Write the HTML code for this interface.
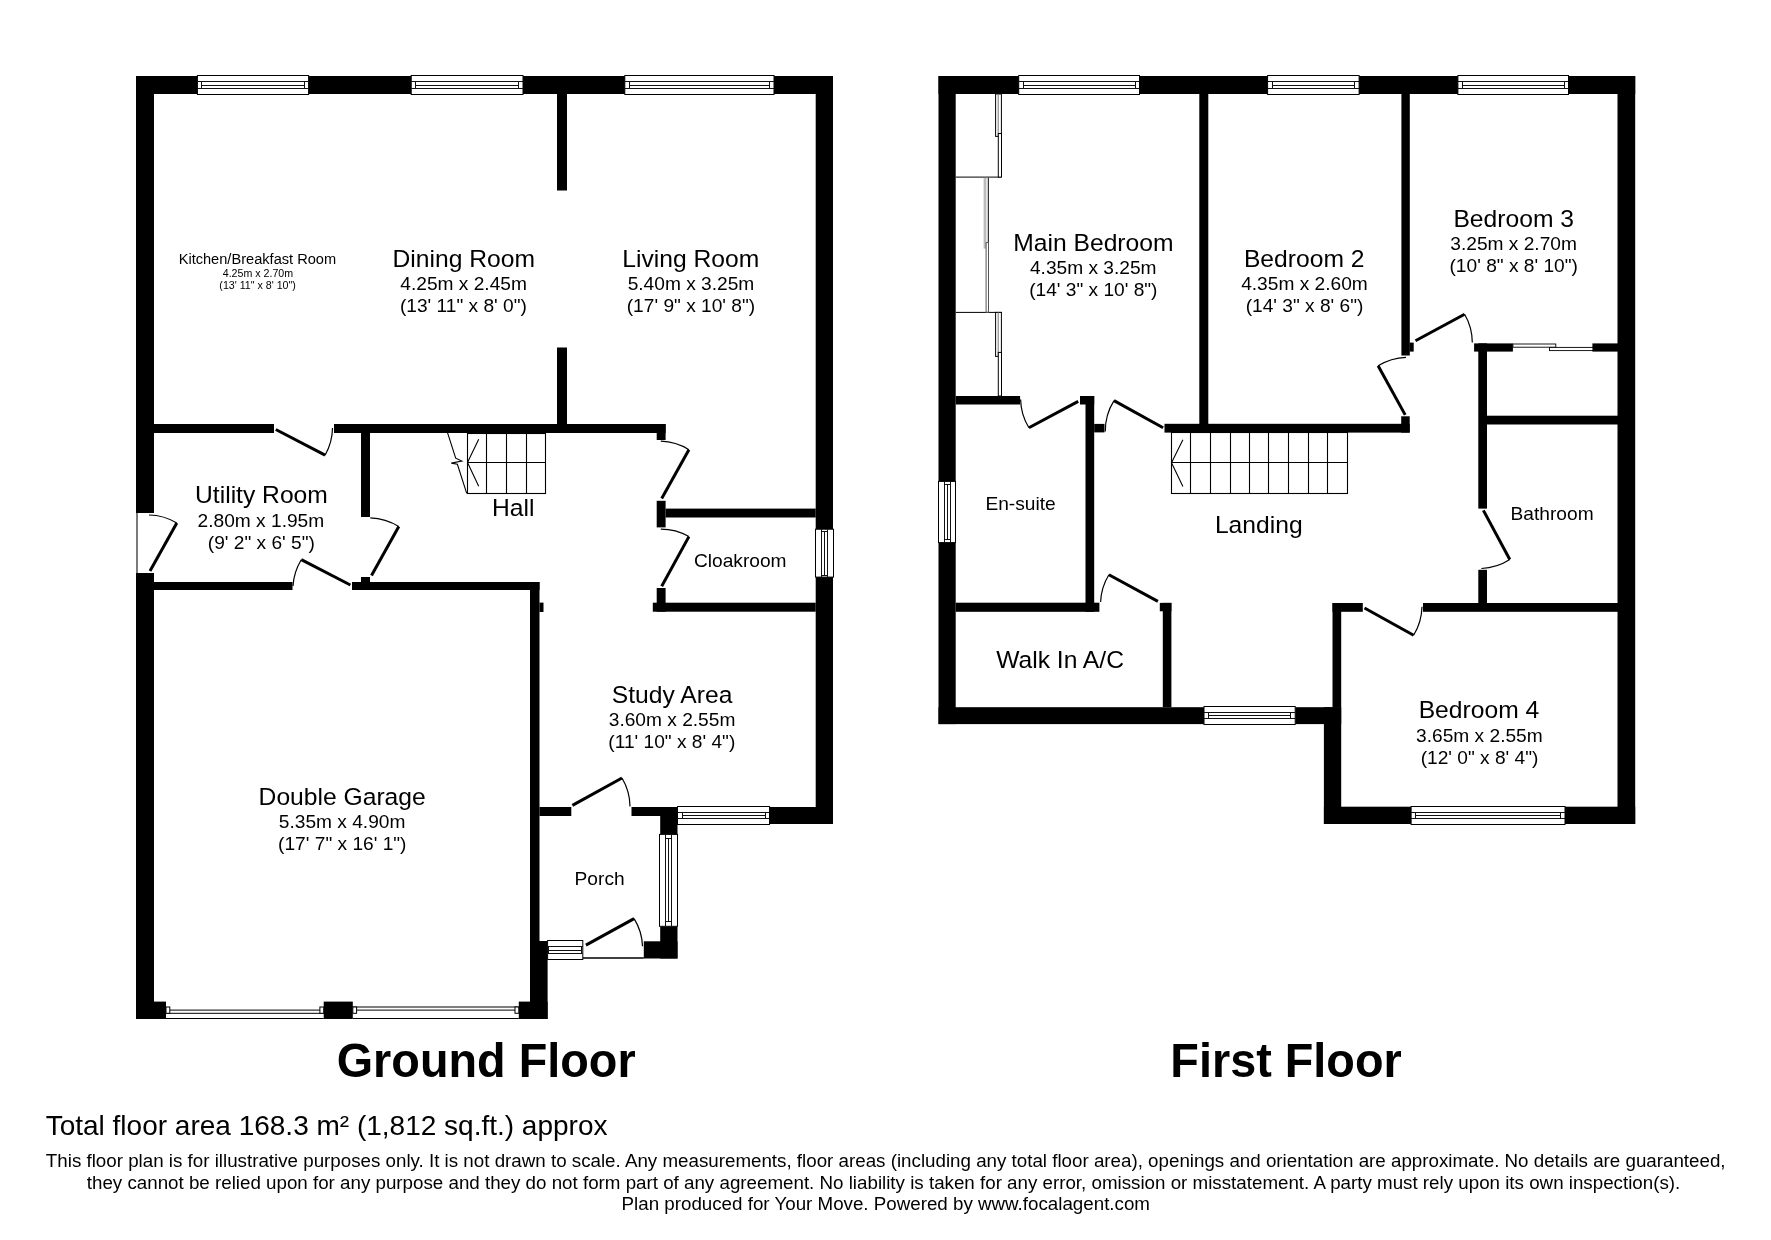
<!DOCTYPE html>
<html><head><meta charset="utf-8"><style>
html,body{margin:0;padding:0;background:#fff;}
svg{display:block;will-change:transform;}
text{font-family:"Liberation Sans",sans-serif;}
</style></head><body>
<svg width="1771" height="1240" viewBox="0 0 1771 1240" font-family="Liberation Sans, sans-serif">
<rect width="1771" height="1240" fill="#fff"/>
<rect x="136.0" y="76.0" width="697.0" height="18.0" fill="#000"/>
<rect x="136.0" y="76.0" width="18.0" height="437.0" fill="#000"/>
<rect x="136.0" y="573.0" width="18.0" height="446.0" fill="#000"/>
<line x1="137.0" y1="513.0" x2="137.0" y2="573.0" stroke="#222" stroke-width="1.2"/>
<rect x="815.7" y="76.0" width="17.3" height="748.0" fill="#000"/>
<rect x="557.0" y="94.0" width="10.0" height="96.5" fill="#000"/>
<rect x="557.0" y="347.5" width="10.0" height="76.5" fill="#000"/>
<rect x="154.0" y="424.0" width="120.0" height="9.0" fill="#000"/>
<rect x="334.0" y="424.0" width="331.6" height="9.0" fill="#000"/>
<rect x="656.7" y="424.0" width="8.9" height="16.0" fill="#000"/>
<rect x="361.0" y="424.0" width="9.0" height="93.0" fill="#000"/>
<rect x="361.0" y="577.0" width="9.0" height="5.0" fill="#000"/>
<rect x="154.0" y="582.0" width="138.5" height="8.0" fill="#000"/>
<rect x="352.0" y="582.0" width="187.5" height="8.0" fill="#000"/>
<rect x="530.0" y="582.0" width="9.5" height="359.0" fill="#000"/>
<rect x="530.0" y="941.0" width="17.6" height="78.0" fill="#000"/>
<rect x="539.5" y="602.6" width="4.0" height="9.4" fill="#000"/>
<rect x="656.7" y="500.8" width="8.9" height="26.6" fill="#000"/>
<rect x="665.6" y="508.6" width="150.1" height="8.9" fill="#000"/>
<rect x="656.7" y="588.0" width="8.9" height="23.7" fill="#000"/>
<rect x="652.8" y="602.7" width="162.9" height="9.0" fill="#000"/>
<rect x="539.5" y="807.0" width="31.8" height="9.0" fill="#000"/>
<rect x="631.5" y="807.0" width="46.0" height="9.0" fill="#000"/>
<rect x="660.2" y="807.0" width="17.3" height="27.4" fill="#000"/>
<rect x="769.5" y="807.0" width="63.5" height="17.0" fill="#000"/>
<rect x="660.2" y="926.3" width="17.3" height="32.2" fill="#000"/>
<rect x="643.8" y="941.3" width="33.7" height="17.2" fill="#000"/>
<line x1="582.8" y1="958.0" x2="643.8" y2="958.0" stroke="#000" stroke-width="1.6"/>
<rect x="136.0" y="1001.6" width="30.0" height="17.4" fill="#000"/>
<rect x="323.7" y="1001.6" width="29.1" height="17.4" fill="#000"/>
<rect x="518.8" y="1001.6" width="28.8" height="17.4" fill="#000"/>
<rect x="197.4" y="75.5" width="111.2" height="19.0" fill="#fff" stroke="#000" stroke-width="1"/>
<line x1="197.4" y1="81.5" x2="308.6" y2="81.5" stroke="#111" stroke-width="1"/>
<line x1="197.4" y1="88.5" x2="308.6" y2="88.5" stroke="#111" stroke-width="1"/>
<line x1="201.5" y1="81.5" x2="201.5" y2="88.5" stroke="#111" stroke-width="1"/>
<line x1="304.5" y1="81.5" x2="304.5" y2="88.5" stroke="#111" stroke-width="1"/>
<line x1="201.5" y1="85.5" x2="304.5" y2="85.5" stroke="#111" stroke-width="1"/>
<rect x="411.2" y="75.5" width="111.8" height="19.0" fill="#fff" stroke="#000" stroke-width="1"/>
<line x1="411.2" y1="81.5" x2="523.0" y2="81.5" stroke="#111" stroke-width="1"/>
<line x1="411.2" y1="88.5" x2="523.0" y2="88.5" stroke="#111" stroke-width="1"/>
<line x1="415.5" y1="81.5" x2="415.5" y2="88.5" stroke="#111" stroke-width="1"/>
<line x1="518.5" y1="81.5" x2="518.5" y2="88.5" stroke="#111" stroke-width="1"/>
<line x1="415.5" y1="85.5" x2="518.5" y2="85.5" stroke="#111" stroke-width="1"/>
<rect x="624.8" y="75.5" width="149.2" height="19.0" fill="#fff" stroke="#000" stroke-width="1"/>
<line x1="624.8" y1="81.5" x2="774.0" y2="81.5" stroke="#111" stroke-width="1"/>
<line x1="624.8" y1="88.5" x2="774.0" y2="88.5" stroke="#111" stroke-width="1"/>
<line x1="629.5" y1="81.5" x2="629.5" y2="88.5" stroke="#111" stroke-width="1"/>
<line x1="769.5" y1="81.5" x2="769.5" y2="88.5" stroke="#111" stroke-width="1"/>
<line x1="629.5" y1="85.5" x2="769.5" y2="85.5" stroke="#111" stroke-width="1"/>
<rect x="815.5" y="529.2" width="18.0" height="47.9" fill="#fff" stroke="#000" stroke-width="1"/>
<line x1="821.5" y1="529.2" x2="821.5" y2="577.1" stroke="#111" stroke-width="1"/>
<line x1="827.5" y1="529.2" x2="827.5" y2="577.1" stroke="#111" stroke-width="1"/>
<line x1="821.5" y1="531.5" x2="827.5" y2="531.5" stroke="#111" stroke-width="1"/>
<line x1="821.5" y1="575.5" x2="827.5" y2="575.5" stroke="#111" stroke-width="1"/>
<line x1="824.5" y1="531.5" x2="824.5" y2="575.5" stroke="#111" stroke-width="1"/>
<rect x="677.5" y="806.5" width="92.0" height="18.0" fill="#fff" stroke="#000" stroke-width="1"/>
<line x1="677.5" y1="812.5" x2="769.5" y2="812.5" stroke="#111" stroke-width="1"/>
<line x1="677.5" y1="818.5" x2="769.5" y2="818.5" stroke="#111" stroke-width="1"/>
<line x1="682.5" y1="812.5" x2="682.5" y2="818.5" stroke="#111" stroke-width="1"/>
<line x1="765.5" y1="812.5" x2="765.5" y2="818.5" stroke="#111" stroke-width="1"/>
<line x1="682.5" y1="815.5" x2="765.5" y2="815.5" stroke="#111" stroke-width="1"/>
<rect x="659.5" y="834.4" width="18.0" height="91.9" fill="#fff" stroke="#000" stroke-width="1"/>
<line x1="665.5" y1="834.4" x2="665.5" y2="926.3" stroke="#111" stroke-width="1"/>
<line x1="671.5" y1="834.4" x2="671.5" y2="926.3" stroke="#111" stroke-width="1"/>
<line x1="665.5" y1="838.5" x2="671.5" y2="838.5" stroke="#111" stroke-width="1"/>
<line x1="665.5" y1="921.5" x2="671.5" y2="921.5" stroke="#111" stroke-width="1"/>
<line x1="668.5" y1="838.5" x2="668.5" y2="921.5" stroke="#111" stroke-width="1"/>
<rect x="547.6" y="940.5" width="35.2" height="19.0" fill="#fff" stroke="#000" stroke-width="1"/>
<line x1="547.6" y1="946.5" x2="582.8" y2="946.5" stroke="#111" stroke-width="1"/>
<line x1="547.6" y1="953.5" x2="582.8" y2="953.5" stroke="#111" stroke-width="1"/>
<line x1="548.5" y1="946.5" x2="548.5" y2="953.5" stroke="#111" stroke-width="1"/>
<line x1="581.5" y1="946.5" x2="581.5" y2="953.5" stroke="#111" stroke-width="1"/>
<line x1="548.5" y1="950.5" x2="581.5" y2="950.5" stroke="#111" stroke-width="1"/>
<line x1="166.0" y1="1018.5" x2="323.7" y2="1018.5" stroke="#000" stroke-width="1.2"/>
<rect x="166.0" y="1010.1" width="157.7" height="3.2" fill="#fff" stroke="#000" stroke-width="1"/>
<rect x="166.0" y="1007" width="3.8" height="6.3" fill="#fff" stroke="#000" stroke-width="1"/>
<rect x="319.9" y="1007" width="3.8" height="6.3" fill="#fff" stroke="#000" stroke-width="1"/>
<line x1="352.8" y1="1018.5" x2="518.8" y2="1018.5" stroke="#000" stroke-width="1.2"/>
<rect x="352.8" y="1007.0" width="166.0" height="3.1" fill="#fff" stroke="#000" stroke-width="1"/>
<rect x="352.8" y="1007" width="3.8" height="6.3" fill="#fff" stroke="#000" stroke-width="1"/>
<rect x="515.0" y="1007" width="3.8" height="6.3" fill="#fff" stroke="#000" stroke-width="1"/>
<line x1="275.8" y1="429.5" x2="325.1" y2="455.2" stroke="#000" stroke-width="3"/>
<path d="M325.1,455.2 A56.2,56.2 0 0 0 332.5,428.1" fill="none" stroke="#000" stroke-width="1.2"/>
<line x1="150.0" y1="571.0" x2="176.8" y2="523.0" stroke="#000" stroke-width="3"/>
<path d="M176.8,523.0 A55.5,55.5 0 0 0 149.0,515.0" fill="none" stroke="#000" stroke-width="1.2"/>
<line x1="350.4" y1="585.0" x2="301.3" y2="559.7" stroke="#000" stroke-width="3"/>
<path d="M301.3,559.7 A56.3,56.3 0 0 0 293.0,586.0" fill="none" stroke="#000" stroke-width="1.2"/>
<line x1="371.5" y1="575.6" x2="398.8" y2="526.5" stroke="#000" stroke-width="3"/>
<path d="M398.8,526.5 A57.0,57.0 0 0 0 370.3,517.8" fill="none" stroke="#000" stroke-width="1.2"/>
<line x1="661.7" y1="498.5" x2="688.9" y2="449.7" stroke="#000" stroke-width="3"/>
<path d="M688.9,449.7 A56.6,56.6 0 0 0 660.8,441.2" fill="none" stroke="#000" stroke-width="1.2"/>
<line x1="661.7" y1="586.3" x2="688.9" y2="536.6" stroke="#000" stroke-width="3"/>
<path d="M688.9,536.6 A56.9,56.9 0 0 0 660.8,529.2" fill="none" stroke="#000" stroke-width="1.2"/>
<line x1="572.4" y1="805.4" x2="622.0" y2="778.0" stroke="#000" stroke-width="3"/>
<path d="M622.0,778.0 A57.1,57.1 0 0 1 630.0,806.4" fill="none" stroke="#000" stroke-width="1.2"/>
<line x1="585.9" y1="945.1" x2="634.1" y2="918.6" stroke="#000" stroke-width="3"/>
<path d="M634.1,918.6 A55.8,55.8 0 0 1 642.5,946.2" fill="none" stroke="#000" stroke-width="1.2"/>
<g stroke="#000" stroke-width="1.1" fill="none">
<rect x="467.5" y="433.5" width="78" height="60"/>
<line x1="486.5" y1="433" x2="486.5" y2="493.5"/>
<line x1="506.5" y1="433" x2="506.5" y2="493.5"/>
<line x1="526.5" y1="433" x2="526.5" y2="493.5"/>
<line x1="467.5" y1="462.5" x2="545.5" y2="462.5"/>
<polyline points="447.5,432.6 455.7,458.2 461.8,461.0 451.3,463.1 457.4,464.3 466.7,493.3"/>
<polyline points="478.7,439.2 467.5,462.6 478.7,486.3"/>
</g>
<rect x="938.5" y="76.0" width="696.7" height="18.0" fill="#000"/>
<rect x="938.5" y="76.0" width="17.2" height="648.1" fill="#000"/>
<rect x="1617.5" y="76.0" width="17.7" height="748.0" fill="#000"/>
<rect x="1199.3" y="94.0" width="9.0" height="330.0" fill="#000"/>
<rect x="1401.4" y="94.0" width="8.4" height="261.5" fill="#000"/>
<rect x="1409.6" y="342.6" width="4.1" height="9.0" fill="#000"/>
<rect x="1164.5" y="423.8" width="245.2" height="8.8" fill="#000"/>
<rect x="1401.2" y="416.3" width="8.5" height="16.3" fill="#000"/>
<rect x="955.7" y="396.0" width="64.4" height="8.5" fill="#000"/>
<rect x="1080.0" y="396.0" width="14.2" height="8.5" fill="#000"/>
<rect x="1085.5" y="396.0" width="8.7" height="215.8" fill="#000"/>
<rect x="1094.2" y="423.9" width="10.3" height="8.5" fill="#000"/>
<rect x="955.7" y="602.7" width="143.7" height="9.1" fill="#000"/>
<rect x="1162.8" y="602.9" width="8.6" height="104.3" fill="#000"/>
<rect x="1159.8" y="602.9" width="11.6" height="8.4" fill="#000"/>
<rect x="938.5" y="707.2" width="265.5" height="16.9" fill="#000"/>
<rect x="1295.2" y="707.2" width="46.0" height="16.9" fill="#000"/>
<rect x="1332.5" y="603.0" width="8.7" height="104.2" fill="#000"/>
<rect x="1323.9" y="707.2" width="17.3" height="116.8" fill="#000"/>
<rect x="1323.9" y="806.7" width="311.3" height="17.3" fill="#000"/>
<rect x="1332.5" y="603.0" width="30.3" height="8.8" fill="#000"/>
<rect x="1423.0" y="603.0" width="195.0" height="8.8" fill="#000"/>
<rect x="1474.1" y="343.4" width="38.8" height="8.2" fill="#000"/>
<rect x="1592.4" y="343.4" width="25.6" height="8.2" fill="#000"/>
<rect x="1478.3" y="343.4" width="8.7" height="165.2" fill="#000"/>
<rect x="1487.0" y="415.7" width="131.0" height="8.8" fill="#000"/>
<rect x="1478.3" y="569.8" width="8.7" height="33.6" fill="#000"/>
<rect x="1018.7" y="75.5" width="120.8" height="19.0" fill="#fff" stroke="#000" stroke-width="1"/>
<line x1="1018.7" y1="81.5" x2="1139.5" y2="81.5" stroke="#111" stroke-width="1"/>
<line x1="1018.7" y1="88.5" x2="1139.5" y2="88.5" stroke="#111" stroke-width="1"/>
<line x1="1023.5" y1="81.5" x2="1023.5" y2="88.5" stroke="#111" stroke-width="1"/>
<line x1="1135.5" y1="81.5" x2="1135.5" y2="88.5" stroke="#111" stroke-width="1"/>
<line x1="1023.5" y1="85.5" x2="1135.5" y2="85.5" stroke="#111" stroke-width="1"/>
<rect x="1267.6" y="75.5" width="91.5" height="19.0" fill="#fff" stroke="#000" stroke-width="1"/>
<line x1="1267.6" y1="81.5" x2="1359.1" y2="81.5" stroke="#111" stroke-width="1"/>
<line x1="1267.6" y1="88.5" x2="1359.1" y2="88.5" stroke="#111" stroke-width="1"/>
<line x1="1272.5" y1="81.5" x2="1272.5" y2="88.5" stroke="#111" stroke-width="1"/>
<line x1="1354.5" y1="81.5" x2="1354.5" y2="88.5" stroke="#111" stroke-width="1"/>
<line x1="1272.5" y1="85.5" x2="1354.5" y2="85.5" stroke="#111" stroke-width="1"/>
<rect x="1457.9" y="75.5" width="110.6" height="19.0" fill="#fff" stroke="#000" stroke-width="1"/>
<line x1="1457.9" y1="81.5" x2="1568.5" y2="81.5" stroke="#111" stroke-width="1"/>
<line x1="1457.9" y1="88.5" x2="1568.5" y2="88.5" stroke="#111" stroke-width="1"/>
<line x1="1462.5" y1="81.5" x2="1462.5" y2="88.5" stroke="#111" stroke-width="1"/>
<line x1="1564.5" y1="81.5" x2="1564.5" y2="88.5" stroke="#111" stroke-width="1"/>
<line x1="1462.5" y1="85.5" x2="1564.5" y2="85.5" stroke="#111" stroke-width="1"/>
<rect x="938.5" y="481.4" width="17.0" height="61.2" fill="#fff" stroke="#000" stroke-width="1"/>
<line x1="944.5" y1="481.4" x2="944.5" y2="542.6" stroke="#111" stroke-width="1"/>
<line x1="950.5" y1="481.4" x2="950.5" y2="542.6" stroke="#111" stroke-width="1"/>
<line x1="944.5" y1="484.5" x2="950.5" y2="484.5" stroke="#111" stroke-width="1"/>
<line x1="944.5" y1="539.5" x2="950.5" y2="539.5" stroke="#111" stroke-width="1"/>
<line x1="947.5" y1="484.5" x2="947.5" y2="539.5" stroke="#111" stroke-width="1"/>
<rect x="1204.0" y="706.5" width="91.2" height="18.0" fill="#fff" stroke="#000" stroke-width="1"/>
<line x1="1204.0" y1="712.5" x2="1295.2" y2="712.5" stroke="#111" stroke-width="1"/>
<line x1="1204.0" y1="718.5" x2="1295.2" y2="718.5" stroke="#111" stroke-width="1"/>
<line x1="1208.5" y1="712.5" x2="1208.5" y2="718.5" stroke="#111" stroke-width="1"/>
<line x1="1290.5" y1="712.5" x2="1290.5" y2="718.5" stroke="#111" stroke-width="1"/>
<line x1="1208.5" y1="715.5" x2="1290.5" y2="715.5" stroke="#111" stroke-width="1"/>
<rect x="1411.1" y="806.5" width="153.9" height="18.0" fill="#fff" stroke="#000" stroke-width="1"/>
<line x1="1411.1" y1="812.5" x2="1565.0" y2="812.5" stroke="#111" stroke-width="1"/>
<line x1="1411.1" y1="818.5" x2="1565.0" y2="818.5" stroke="#111" stroke-width="1"/>
<line x1="1415.5" y1="812.5" x2="1415.5" y2="818.5" stroke="#111" stroke-width="1"/>
<line x1="1560.5" y1="812.5" x2="1560.5" y2="818.5" stroke="#111" stroke-width="1"/>
<line x1="1415.5" y1="815.5" x2="1560.5" y2="815.5" stroke="#111" stroke-width="1"/>
<line x1="1078.2" y1="401.4" x2="1028.9" y2="427.7" stroke="#000" stroke-width="3"/>
<path d="M1028.9,427.7 A56.8,56.8 0 0 1 1020.6,399.4" fill="none" stroke="#000" stroke-width="1.2"/>
<line x1="1163.1" y1="427.7" x2="1114.0" y2="400.6" stroke="#000" stroke-width="3"/>
<path d="M1114.0,400.6 A57.0,57.0 0 0 0 1105.3,431.6" fill="none" stroke="#000" stroke-width="1.2"/>
<line x1="1157.9" y1="601.4" x2="1108.9" y2="574.8" stroke="#000" stroke-width="3"/>
<path d="M1108.9,574.8 A56.5,56.5 0 0 0 1100.6,602.0" fill="none" stroke="#000" stroke-width="1.2"/>
<line x1="1405.2" y1="414.9" x2="1378.1" y2="365.8" stroke="#000" stroke-width="3"/>
<path d="M1378.1,365.8 A56.8,56.8 0 0 1 1406.0,357.3" fill="none" stroke="#000" stroke-width="1.2"/>
<line x1="1415.5" y1="340.8" x2="1464.6" y2="314.2" stroke="#000" stroke-width="3"/>
<path d="M1464.6,314.2 A56.3,56.3 0 0 1 1472.3,342.6" fill="none" stroke="#000" stroke-width="1.2"/>
<line x1="1483.4" y1="510.4" x2="1509.8" y2="559.5" stroke="#000" stroke-width="3"/>
<path d="M1509.8,559.5 A56.9,56.9 0 0 1 1481.4,568.5" fill="none" stroke="#000" stroke-width="1.2"/>
<line x1="1364.5" y1="608.0" x2="1413.6" y2="635.2" stroke="#000" stroke-width="3"/>
<path d="M1413.6,635.2 A56.8,56.8 0 0 0 1422.0,606.7" fill="none" stroke="#000" stroke-width="1.2"/>
<g stroke="#000" stroke-width="1" fill="none">
<path d="M955.7,177.1 H1001.2"/>
<path d="M955.7,312.4 H1001.9"/>
<rect x="995.6" y="94" width="5.8" height="42.4" fill="#fff"/>
<line x1="998.2" y1="94" x2="998.2" y2="136.4" stroke="#777"/>
<rect x="998.3" y="133.5" width="3.2" height="43.6" fill="#fff"/>
<rect x="995.6" y="312.4" width="5.8" height="44.0" fill="#fff"/>
<line x1="998.2" y1="312.4" x2="998.2" y2="356.4" stroke="#777"/>
<rect x="998.3" y="352.4" width="3.2" height="43.6" fill="#fff"/>
<rect x="983.6" y="177.9" width="2.8" height="70.7" fill="#bbb" stroke="none"/>
<line x1="988.3" y1="177.9" x2="988.3" y2="242.6"/>
<rect x="986.1" y="242.6" width="2.4" height="69.6" fill="#fff" stroke="#555"/>
</g>
<g stroke="#000" stroke-width="0.9" fill="#fff">
<rect x="1512.9" y="344.0" width="42.9" height="3.2"/>
<rect x="1549.5" y="347.4" width="43.4" height="3.2"/>
</g>
<g stroke="#000" stroke-width="1.1" fill="none">
<rect x="1171.5" y="432.5" width="176" height="61"/>
<line x1="1190.5" y1="432.5" x2="1190.5" y2="493.5"/>
<line x1="1210.5" y1="432.5" x2="1210.5" y2="493.5"/>
<line x1="1230.5" y1="432.5" x2="1230.5" y2="493.5"/>
<line x1="1249.5" y1="432.5" x2="1249.5" y2="493.5"/>
<line x1="1268.5" y1="432.5" x2="1268.5" y2="493.5"/>
<line x1="1288.5" y1="432.5" x2="1288.5" y2="493.5"/>
<line x1="1308.5" y1="432.5" x2="1308.5" y2="493.5"/>
<line x1="1327.5" y1="432.5" x2="1327.5" y2="493.5"/>
<line x1="1171.5" y1="462.5" x2="1347" y2="462.5"/>
<polyline points="1182.9,439.7 1171.5,462.7 1182.9,486.5"/>
</g>
<g font-family="Liberation Sans, sans-serif" fill="#000">
<text x="178.65" y="264.00" font-size="14.62">Kitchen/Breakfast Room</text>
<text x="222.75" y="277.00" font-size="10.65">4.25m x 2.70m</text>
<text x="219.35" y="289.10" font-size="10.65">(13' 11&quot; x 8' 10&quot;)</text>
<text x="392.50" y="266.90" font-size="24.65">Dining Room</text>
<text x="400.30" y="290.20" font-size="19.15">4.25m x 2.45m</text>
<text x="399.90" y="312.20" font-size="19.15">(13' 11&quot; x 8' 0&quot;)</text>
<text x="622.35" y="266.90" font-size="24.65">Living Room</text>
<text x="627.65" y="290.20" font-size="19.15">5.40m x 3.25m</text>
<text x="626.75" y="312.20" font-size="19.15">(17' 9&quot; x 10' 8&quot;)</text>
<text x="195.05" y="503.40" font-size="24.65">Utility Room</text>
<text x="197.60" y="526.70" font-size="19.15">2.80m x 1.95m</text>
<text x="207.80" y="548.70" font-size="19.15">(9' 2&quot; x 6' 5&quot;)</text>
<text x="492.00" y="516.30" font-size="24.65">Hall</text>
<text x="694.00" y="567.10" font-size="19.15">Cloakroom</text>
<text x="611.80" y="702.90" font-size="24.65">Study Area</text>
<text x="608.75" y="726.20" font-size="19.15">3.60m x 2.55m</text>
<text x="608.35" y="748.20" font-size="19.15">(11' 10&quot; x 8' 4&quot;)</text>
<text x="574.60" y="885.30" font-size="19.15">Porch</text>
<text x="258.60" y="805.10" font-size="24.65">Double Garage</text>
<text x="278.80" y="828.40" font-size="19.15">5.35m x 4.90m</text>
<text x="278.10" y="850.40" font-size="19.15">(17' 7&quot; x 16' 1&quot;)</text>
<text x="1013.25" y="251.10" font-size="24.65">Main Bedroom</text>
<text x="1029.95" y="274.40" font-size="19.15">4.35m x 3.25m</text>
<text x="1029.15" y="296.40" font-size="19.15">(14' 3&quot; x 10' 8&quot;)</text>
<text x="1243.95" y="266.90" font-size="24.65">Bedroom 2</text>
<text x="1241.15" y="290.20" font-size="19.15">4.35m x 2.60m</text>
<text x="1245.65" y="312.20" font-size="19.15">(14' 3&quot; x 8' 6&quot;)</text>
<text x="1453.45" y="226.90" font-size="24.65">Bedroom 3</text>
<text x="1450.30" y="250.20" font-size="19.15">3.25m x 2.70m</text>
<text x="1449.50" y="272.20" font-size="19.15">(10' 8&quot; x 8' 10&quot;)</text>
<text x="1418.70" y="718.30" font-size="24.65">Bedroom 4</text>
<text x="1416.10" y="741.60" font-size="19.15">3.65m x 2.55m</text>
<text x="1420.70" y="763.60" font-size="19.15">(12' 0&quot; x 8' 4&quot;)</text>
<text x="985.45" y="510.10" font-size="19.15">En-suite</text>
<text x="1214.90" y="533.30" font-size="24.65">Landing</text>
<text x="1510.60" y="520.30" font-size="19.15">Bathroom</text>
<text x="996.15" y="667.80" font-size="24.65">Walk In A/C</text>
<text transform="translate(336.70,1077.30) scale(1,1.045)" x="0" y="0" font-size="46.8" font-weight="bold">Ground Floor</text>
<text transform="translate(1170.35,1077.10) scale(1,1.045)" x="0" y="0" font-size="46.8" font-weight="bold">First Floor</text>
<text x="45.65" y="1135.20" font-size="28.0">Total floor area 168.3 m² (1,812 sq.ft.) approx</text>
<text x="45.85" y="1166.90" font-size="18.76">This floor plan is for illustrative purposes only. It is not drawn to scale. Any measurements, floor areas (including any total floor area), openings and orientation are approximate. No details are guaranteed,</text>
<text x="86.75" y="1189.00" font-size="18.76">they cannot be relied upon for any purpose and they do not form part of any agreement. No liability is taken for any error, omission or misstatement. A party must rely upon its own inspection(s).</text>
<text x="621.55" y="1209.90" font-size="18.76">Plan produced for Your Move. Powered by www.focalagent.com</text>
</g>
</svg>
</body></html>
